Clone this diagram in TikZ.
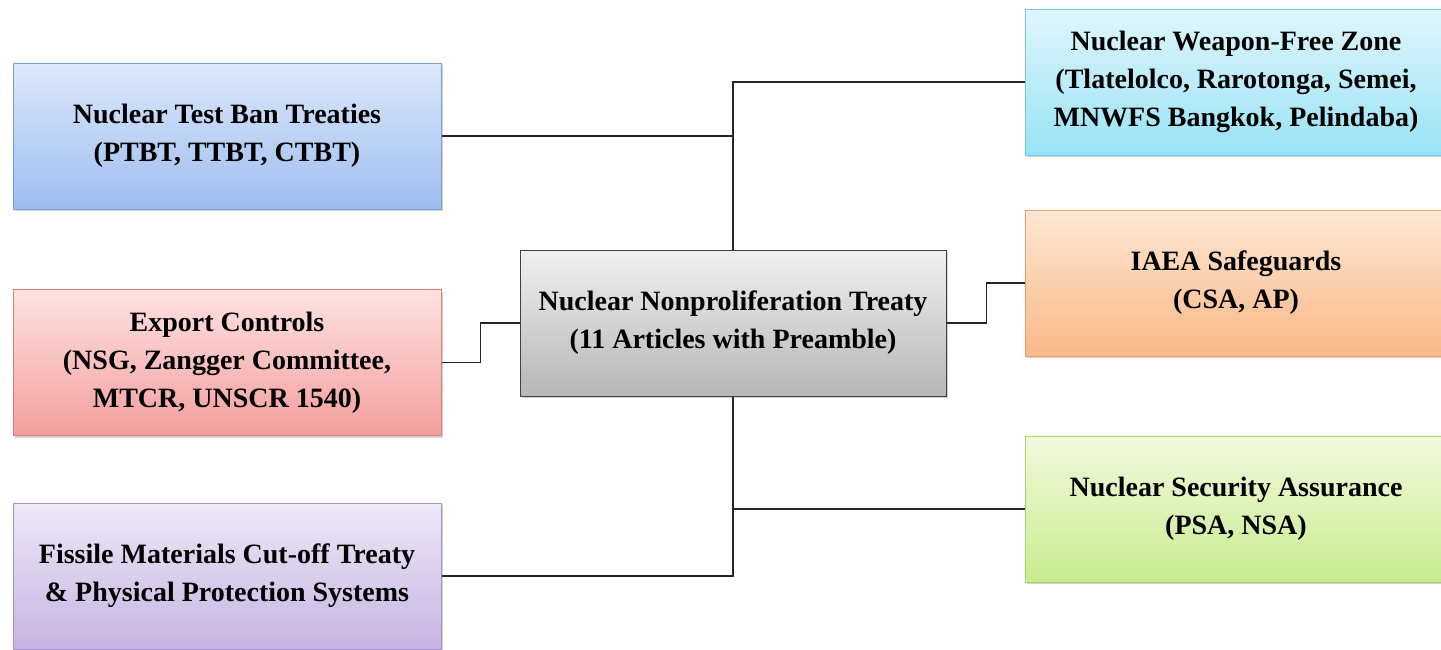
\documentclass[tikz,border=0pt]{standalone}
\usepackage{fontspec}
\setmainfont{Liberation Serif}
\usetikzlibrary{shadows,calc}

\definecolor{bluetop}{HTML}{DDE8FB}
\definecolor{bluebot}{HTML}{9DBDF0}
\definecolor{blueline}{HTML}{7D9DD2}
\definecolor{redtop}{HTML}{FDE2E2}
\definecolor{redbot}{HTML}{F49E9E}
\definecolor{redline}{HTML}{E07C7C}
\definecolor{purpletop}{HTML}{EEE8F7}
\definecolor{purplebot}{HTML}{C6B4E2}
\definecolor{purpleline}{HTML}{A690CC}
\definecolor{cyantop}{HTML}{E0F6FC}
\definecolor{cyanbot}{HTML}{98E2F5}
\definecolor{cyanline}{HTML}{6FCBE3}
\definecolor{orangetop}{HTML}{FDE7D4}
\definecolor{orangebot}{HTML}{F9B886}
\definecolor{orangeline}{HTML}{EFA066}
\definecolor{greentop}{HTML}{F1F9DE}
\definecolor{greenbot}{HTML}{C9EC8E}
\definecolor{greenline}{HTML}{A8D66A}
\definecolor{graytop}{HTML}{F0F0F0}
\definecolor{graybot}{HTML}{B6B6B6}

\begin{document}
\begin{tikzpicture}[x=1pt,y=-1pt,line width=1.2pt,
  treatybox/.style={rectangle,minimum width=428pt,minimum height=146pt,inner sep=0pt,
    align=center,font=\fontsize{28}{38}\selectfont\bfseries,line width=1pt,
    drop shadow={shadow xshift=2pt,shadow yshift=-2pt,opacity=.35}},
  shade2/.style args={#1}{draw=#1line,top color=#1top,bottom color=#1bot},
  link/.style={draw=black!85,line width=1.4pt}]
\clip (0,0) rectangle (1441,649);
\useasboundingbox (0,0) rectangle (1441,649);

% centre box
\node[treatybox,minimum width=426pt,draw=black!75,top color=graytop,bottom color=graybot] (npt) at (733,323)
  {Nuclear Nonproliferation Treaty\\(11 Articles with Preamble)};

% left column
\node[treatybox,shade2=blue] (ntbt) at (227,136) {Nuclear Test Ban Treaties\\(PTBT, TTBT, CTBT)};
\node[treatybox,shade2=red] (export) at (227,362.5) {Export Controls\\(NSG, Zangger Committee,\\MTCR, UNSCR 1540)};
\node[treatybox,shade2=purple] (fmct) at (227,576) {Fissile Materials Cut-off Treaty\\\& Physical Protection Systems};

% right column
\node[treatybox,minimum width=422pt,shade2=cyan] (nwfz) at (1236,82) {Nuclear Weapon-Free Zone\\(Tlatelolco, Rarotonga, Semei,\\MNWFS Bangkok, Pelindaba)};
\node[treatybox,minimum width=422pt,shade2=orange] (iaea) at (1236,283) {IAEA Safeguards\\(CSA, AP)};
\node[treatybox,minimum width=422pt,shade2=green] (nsa) at (1236,509) {Nuclear Security Assurance\\(PSA, NSA)};

% connectors
\draw[link] (npt.north) |- (nwfz.west);
\draw[link] (ntbt.east) -- (ntbt.east -| npt.north);
\draw[link] (npt.south) |- (nsa.west);
\draw[link] (fmct.east) -| (npt.south);
\draw[link] (export.east) -- ++(39,0) |- (npt.west);
\draw[link] (npt.east) -- ++(40,0) |- (iaea.west);
\end{tikzpicture}
\end{document}
